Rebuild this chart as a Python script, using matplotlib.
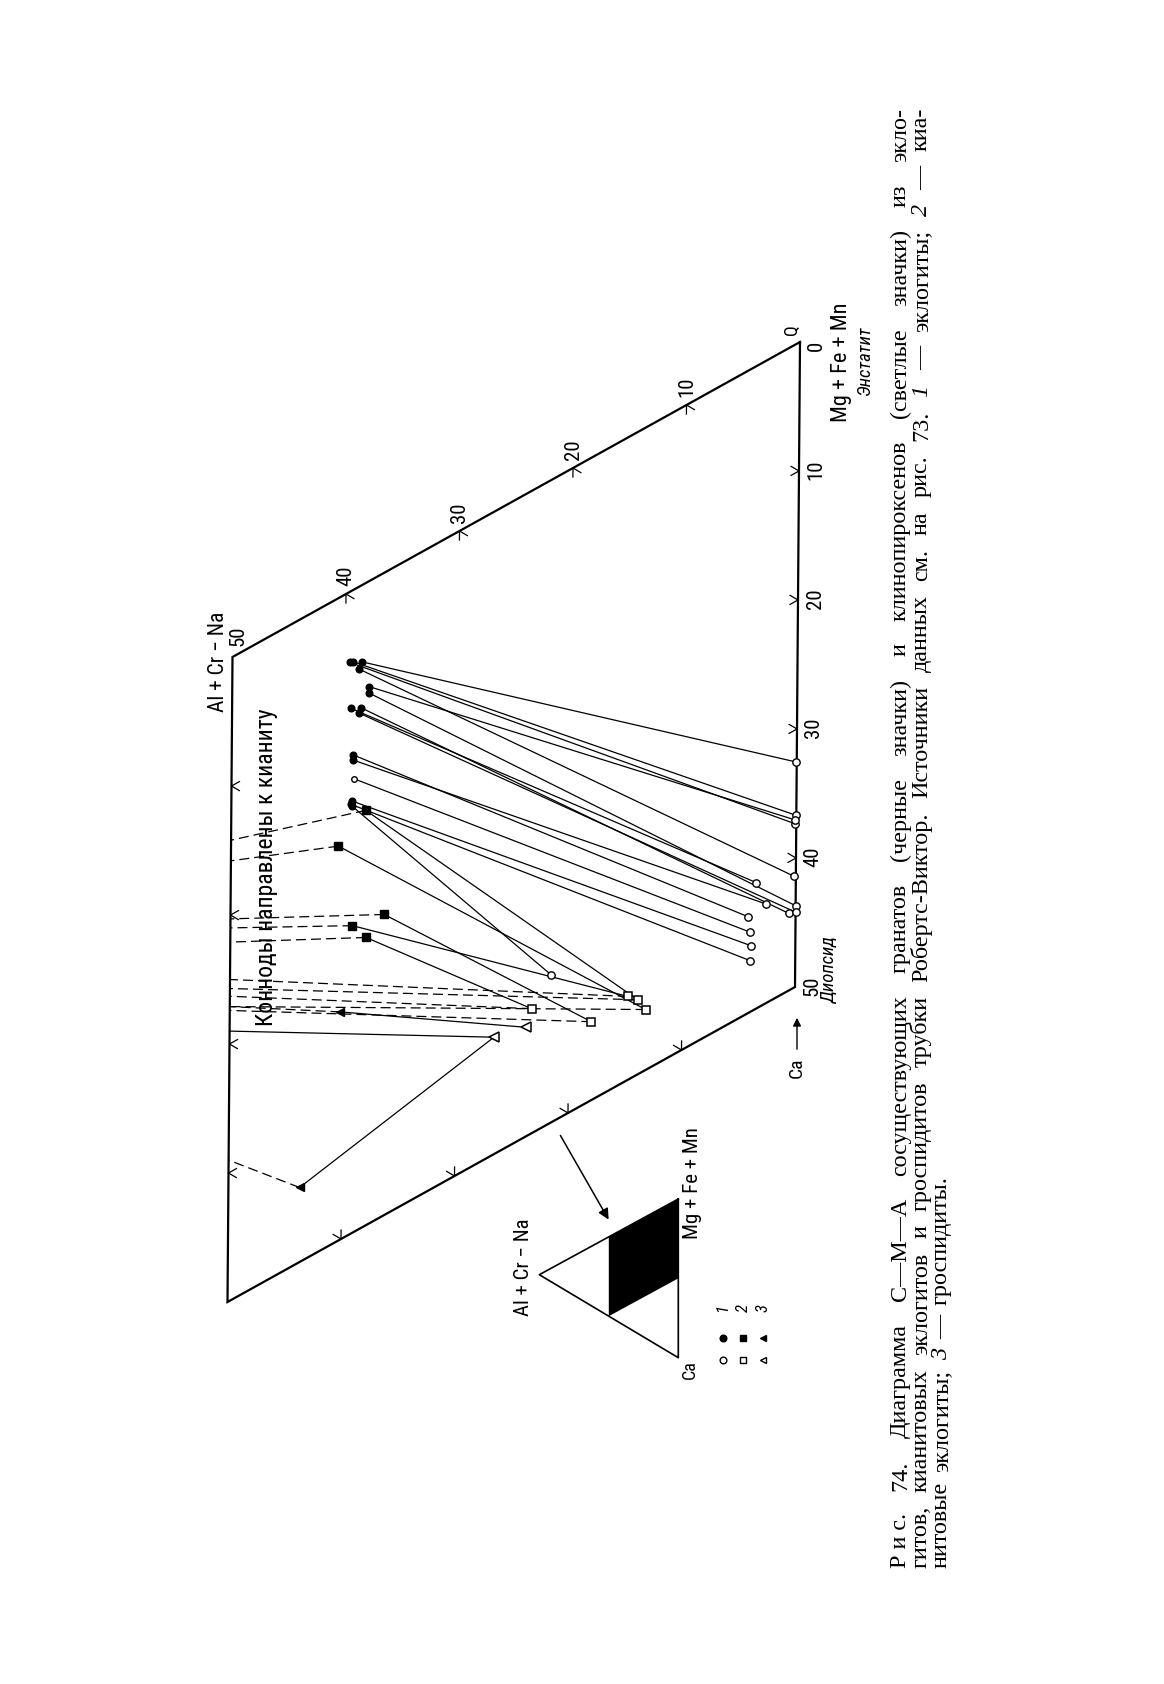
import matplotlib
matplotlib.use("Agg")
import matplotlib.pyplot as plt
import numpy as np
from matplotlib.transforms import Affine2D, offset_copy
from matplotlib import font_manager as fm

W, H, DPI = 1164, 1684, 100

def pick(fams):
    avail = {f.name for f in fm.fontManager.ttflist}
    for f in fams:
        if f in avail:
            return f
    return 'DejaVu Sans'

SANS = pick(['Liberation Sans Narrow', 'Roboto Condensed', 'Liberation Sans', 'DejaVu Sans'])
SERIF = pick(['Liberation Serif', 'DejaVu Serif'])

# ---------------- data (A = Al+Cr-Na, Ca; percent) ----------------
# 1 - eclogites: garnet (filled) -> clinopyroxene (open)
ecl_grt_A  = [38.5, 39.3, 39.6, 38.8, 37.9, 37.9, 39.5, 38.6, 38.8, 39.3, 39.3, 39.2, 39.3, 39.4, 39.3]
ecl_grt_Ca = [6.0, 5.6, 5.5, 6.4, 8.2, 8.7, 9.1, 9.5, 9.8, 12.8, 13.2, 14.7, 16.4, 16.6, 16.8]
ecl_grt_open = [False]*11 + [True] + [False]*3
ecl_cpx_A  = [0.1, 0.0, 0.1, 0.2, 0.1, 0.0, 3.5, 0.6, 0.0, 4.2, 2.6, 4.0, 3.9, 4.0, 21.6]
ecl_cpx_Ca = [32.5, 36.7, 37.3, 41.3, 37.0, 43.7, 40.2, 44.0, 44.2, 42.5, 42.3, 43.8, 44.9, 46.0, 38.5]

# 2 - kyanite eclogites
ky_grt_A  = [38.1, 40.5, 36.4, 39.2, 38.0]
ky_grt_Ca = [17.7, 19.3, 26.6, 26.1, 27.6]
ky_cpx_A  = [13.9, 13.2, 18.0, 14.8, 23.3]
ky_cpx_Ca = [44.2, 45.3, 43.9, 43.5, 40.3]
ky_grt_edge_Ca = [14.2, 15.8, 20.3, 21.0, 22.1]   # tie line to kyanite meets A = 50
ky_cpx_edge_Ca = [25.7, 27.1, 27.4, 25.0, 26.3]

# 3 - grospydites
gr_grt_A  = [40.2, 43.7]
gr_grt_Ca = [32.3, 44.2]
gr_cpx_A  = [23.8, 26.6]
gr_cpx_Ca = [41.5, 40.9]
gr_grt_edge_Ca = [27.1, 39.0]
gr_cpx_edge_Ca = [29.0]

tick_values = [10, 20, 30, 40]
right_labels = ['0', '10', '20', '30', '40', '50']
top_labels = ['10', '20', '30', '40', '50']

caption1 = [("Р и с.", "normal"), ("74.", "normal"), ("Диаграмма", "normal"), ("С—М—А", "normal"),
            ("сосуществующих", "normal"), ("гранатов", "normal"), ("(черные", "normal"), ("значки)", "normal"),
            ("и", "normal"), ("клинопироксенов", "normal"), ("(светлые", "normal"), ("значки)", "normal"),
            ("из", "normal"), ("экло-", "normal")]
caption2 = [("гитов,", "normal"), ("кианитовых", "normal"), ("эклогитов", "normal"), ("и", "normal"),
            ("гроспидитов", "normal"), ("трубки", "normal"), ("Робертс-Виктор.", "normal"), ("Источники", "normal"),
            ("данных", "normal"), ("см.", "normal"), ("на", "normal"), ("рис.", "normal"), ("73.", "normal"),
            ("1", "italic"), ("—", "normal"), ("эклогиты;", "normal"), ("2", "italic"), ("—", "normal"), ("киа-", "normal")]
caption3 = [("нитовые", "normal"), ("эклогиты;", "normal"), ("3", "italic"), ("—", "normal"), ("гроспидиты.", "normal")]

# ---------------- figure ----------------
fig = plt.figure(figsize=(W / DPI, H / DPI), dpi=DPI)
fig.patch.set_facecolor('white')
ax = fig.add_axes([0, 0, 1, 1])
ax.set_xlim(0, W)
ax.set_ylim(H, 0)
ax.axis('off')
R = fig.canvas.get_renderer()

def tern_tf(origin, va, vc):
    m = np.array([[va[0], vc[0], origin[0]], [va[1], vc[1], origin[1]], [0, 0, 1.0]])
    return Affine2D(m) + ax.transData

T = tern_tf((800.0, 342.0), (-11.35, 6.30), (-0.10, 12.90))

def off(dx, dy):
    return offset_copy(T, fig=fig, x=dx, y=dy, units='dots')

LW = 0.9
# frame: parallelogram 0<=A<=50, 0<=Ca<=50
ax.plot([0, 50, 50, 0, 0], [0, 0, 50, 50, 0], transform=T, color='k', lw=1.6, solid_joinstyle='miter', zorder=4)

# ticks
d = 0.7
for v in tick_values:
    ax.plot([d, 0, d], [v - d, v, v], transform=T, color='k', lw=0.9)          # right edge
    ax.plot([50 - d, 50, 50 - d], [v, v, v + d], transform=T, color='k', lw=0.9)  # left edge
    ax.plot([v - d, v, v], [d, 0, d], transform=T, color='k', lw=0.9)          # top edge
    ax.plot([v, v, v + d], [50 - d, 50, 50 - d], transform=T, color='k', lw=0.9)  # bottom edge

# tick labels
for i, s in enumerate(right_labels):
    dx, dy = (17, 1) if i > 0 else (16, -4)
    ax.text(0, 10 * i, s, transform=off(dx, dy), rotation=90, ha='center', va='center',
            fontsize=15, family=SANS)
for i, s in enumerate(top_labels):
    dx, dy = (0, 18) if i < 4 else (6, 21)
    ax.text(10 * (i + 1), 0, s, transform=off(dx, dy), rotation=90, ha='center', va='center',
            fontsize=15, family=SANS)
ax.text(0, 0, 'Q', transform=off(-8, 12), rotation=90, ha='center', va='center', fontsize=13, family=SANS)

# eclogite tie lines
for ga, gc, ca, cc, op in zip(ecl_grt_A, ecl_grt_Ca, ecl_cpx_A, ecl_cpx_Ca, ecl_grt_open):
    ax.plot([ga, ca], [gc, cc], transform=T, color='k', lw=LW, zorder=2)
    ax.plot([ga], [gc], 'o', transform=T, ms=4.8 if not op else 4.0,
            mfc='white' if op else 'k', mec='k', mew=1.0, zorder=5)
    ax.plot([ca], [cc], 'o', transform=T, ms=5.3, mfc='white', mec='k', mew=1.0, zorder=5)

# kyanite eclogites
dash = (0, (8, 4))
for ga, gc, ca, cc, ge, ce in zip(ky_grt_A, ky_grt_Ca, ky_cpx_A, ky_cpx_Ca, ky_grt_edge_Ca, ky_cpx_edge_Ca):
    ax.plot([ga, ca], [gc, cc], transform=T, color='k', lw=LW, zorder=2)
    ax.plot([ga, 50], [gc, ge], transform=T, color='k', lw=LW, ls=dash, zorder=2)
    ax.plot([ca, 50], [cc, ce], transform=T, color='k', lw=LW, ls=dash, zorder=2)
    ax.plot([ga], [gc], 's', transform=T, ms=5.2, mfc='k', mec='k', zorder=5)
    ax.plot([ca], [cc], 's', transform=T, ms=5.6, mfc='white', mec='k', mew=1.1, zorder=5)

# grospydites
for ga, gc, ca, cc, ge in zip(gr_grt_A, gr_grt_Ca, gr_cpx_A, gr_cpx_Ca, gr_grt_edge_Ca):
    ax.plot([ga, ca], [gc, cc], transform=T, color='k', lw=LW, zorder=2)
    ax.plot([ga, 50], [gc, ge], transform=T, color='k', lw=LW, ls=dash, zorder=2)
    ax.plot([ga], [gc], '<', transform=T, ms=6.2, mfc='k', mec='k', zorder=5)
    ax.plot([ca], [cc], '<', transform=T, ms=6.8, mfc='white', mec='k', mew=1.1, zorder=5)
for ca, cc, ce in zip(gr_cpx_A[1:], gr_cpx_Ca[1:], gr_cpx_edge_Ca):
    ax.plot([ca, 50], [cc, ce], transform=T, color='k', lw=LW, zorder=2)

# ---------------- text labels ----------------
def rtext(x, y, s, length=None, size=12, family=SANS, maxsize=None, **kw):
    t = ax.text(x, y, s, rotation=90, rotation_mode='anchor', ha='center', va='center',
                fontsize=size, family=family, **kw)
    if length:
        h = t.get_window_extent(R).height
        ns = size * length / h
        if maxsize:
            ns = min(ns, maxsize)
        t.set_fontsize(ns)
    return t

rtext(218, 662, 'Al + Cr − Na', length=117, size=13, maxsize=15.5)
rtext(842, 362, 'Mg + Fe + Mn', length=125, size=13, maxsize=16)
rtext(865, 360, 'Энстатит', size=13.5, style='italic')
rtext(830, 970, 'Диопсид', size=13.5, style='italic')
rtext(266, 867, 'Коннoды направлены к кианиту', length=316, size=13)
rtext(797, 1068, 'Ca', size=14)
ax.annotate('', xy=(797, 1015), xytext=(797, 1052),
            arrowprops=dict(arrowstyle='-|>', color='k', lw=1.0, mutation_scale=12))

# ---------------- inset ----------------
Ti = tern_tf((678.3, 1199.0), (-1.39, 0.757), (0.0, 1.587))
ax.fill([0, 50, 50, 0], [0, 0, 50, 50], transform=Ti, color='k', lw=0)
ax.plot([0, 100, 0, 0], [0, 0, 100, 0], transform=Ti, color='k', lw=1.2)
rtext(523.5, 1267, 'Al + Cr − Na', length=109, size=12, maxsize=15)
rtext(692, 1183, 'Mg + Fe + Mn', length=113, size=12, maxsize=15)
rtext(690, 1370, 'Ca', size=13)
ax.annotate('', xy=(610, 1222), xytext=(559, 1133),
            arrowprops=dict(arrowstyle='-|>', color='k', lw=1.1, mutation_scale=16))

# legend
leg_x = [723, 743, 763]
leg_m = ['o', 's', '<']
for x, m, n in zip(leg_x, leg_m, ['1', '2', '3']):
    ax.plot([x], [1360], m, ms=4.8, mfc='white', mec='k', mew=1.0)
    ax.plot([x], [1338], m, ms=4.8, mfc='k', mec='k')
    rtext(x, 1308, n, size=12, style='italic')

# ---------------- caption ----------------
def measure(words, size):
    ws = []
    for w, st in words:
        t = ax.text(0, 0, w, fontsize=size, family=SERIF, style=st)
        ws.append(t.get_window_extent(R).width)
        t.remove()
    return ws

def place_words(words, xb, y0, y1, size):
    ws = measure(words, size)
    if y1 is None:
        gap = 0.4 * size * DPI / 72
    else:
        gap = ((y0 - y1) - sum(ws)) / (len(words) - 1)
    y = y0
    for (w, st), wd in zip(words, ws):
        ax.text(xb, y, w, rotation=90, rotation_mode='anchor', ha='left', va='baseline',
                fontsize=size, family=SERIF, style=st)
        y -= wd + gap

L = 1568 - 108
s0 = 14.0
sizes = []
for words in (caption1, caption2):
    ws = measure(words, s0)
    nat = sum(ws) + (len(words) - 1) * 0.27 * s0 * DPI / 72
    sizes.append(s0 * L / nat * 0.975)
cs = min(sizes) * 0.93

place_words(caption1, 906, 1568, 108, cs)
place_words(caption2, 927, 1568, 108, cs)
place_words(caption3, 947, 1568, None, cs)

fig.savefig('out.png', dpi=DPI, facecolor='white')
